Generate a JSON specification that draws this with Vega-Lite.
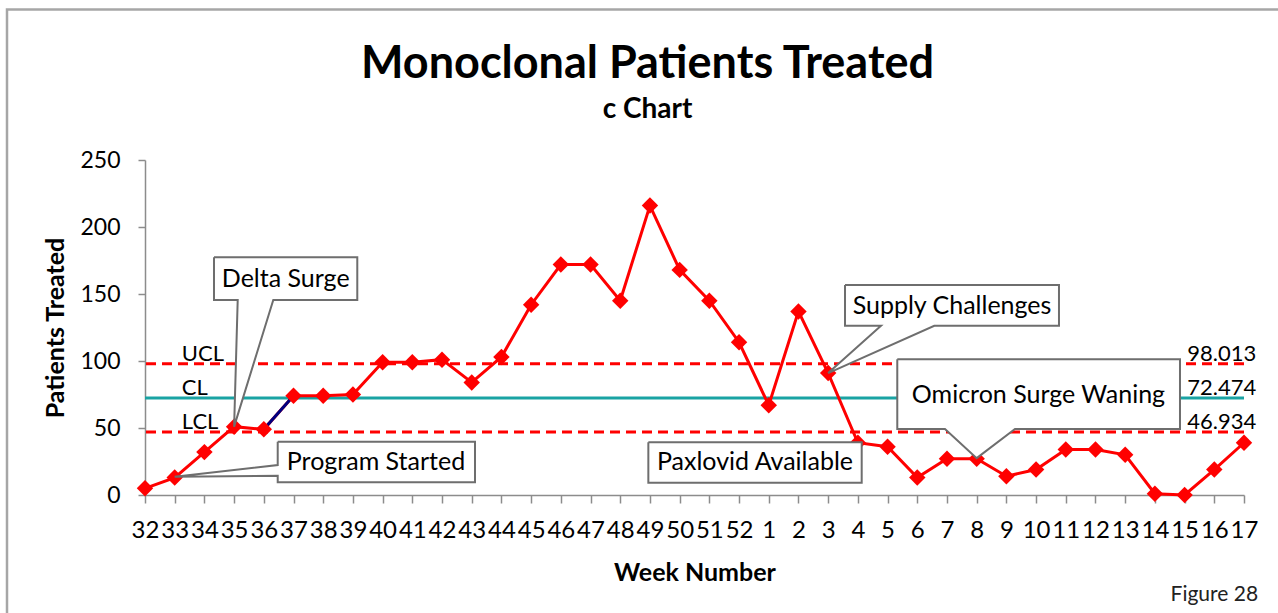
{
  "$schema": "https://vega.github.io/schema/vega-lite/v6.json",
  "width": 1099,
  "height": 335,
  "autosize": {"type": "none"},
  "padding": {"left": 145, "top": 160, "right": 34, "bottom": 118},
  "background": "white",
  "config": {
    "view": {"stroke": null},
    "font": "Lato"
  },
  "title": {
    "text": "Monoclonal Patients Treated",
    "subtitle": "c Chart",
    "font": "Lato",
    "fontSize": 45,
    "fontWeight": "bold",
    "color": "black",
    "subtitleFont": "Lato",
    "subtitleFontSize": 28,
    "subtitleFontWeight": "bold",
    "subtitleColor": "black",
    "subtitlePadding": 9,
    "anchor": "middle",
    "frame": "group",
    "offset": -116,
    "dx": -47
  },
  "datasets": {
    "weeks": [
      {"idx": 0, "week": "32", "patients": 5},
      {"idx": 1, "week": "33", "patients": 13},
      {"idx": 2, "week": "34", "patients": 32},
      {"idx": 3, "week": "35", "patients": 51},
      {"idx": 4, "week": "36", "patients": 49},
      {"idx": 5, "week": "37", "patients": 74},
      {"idx": 6, "week": "38", "patients": 74},
      {"idx": 7, "week": "39", "patients": 75},
      {"idx": 8, "week": "40", "patients": 99},
      {"idx": 9, "week": "41", "patients": 99},
      {"idx": 10, "week": "42", "patients": 101},
      {"idx": 11, "week": "43", "patients": 84},
      {"idx": 12, "week": "44", "patients": 103},
      {"idx": 13, "week": "45", "patients": 142},
      {"idx": 14, "week": "46", "patients": 172},
      {"idx": 15, "week": "47", "patients": 172},
      {"idx": 16, "week": "48", "patients": 145},
      {"idx": 17, "week": "49", "patients": 216},
      {"idx": 18, "week": "50", "patients": 168},
      {"idx": 19, "week": "51", "patients": 145},
      {"idx": 20, "week": "52", "patients": 114},
      {"idx": 21, "week": "1", "patients": 67},
      {"idx": 22, "week": "2", "patients": 137},
      {"idx": 23, "week": "3", "patients": 91},
      {"idx": 24, "week": "4", "patients": 39},
      {"idx": 25, "week": "5", "patients": 36},
      {"idx": 26, "week": "6", "patients": 13},
      {"idx": 27, "week": "7", "patients": 27},
      {"idx": 28, "week": "8", "patients": 27},
      {"idx": 29, "week": "9", "patients": 14},
      {"idx": 30, "week": "10", "patients": 19},
      {"idx": 31, "week": "11", "patients": 34},
      {"idx": 32, "week": "12", "patients": 34},
      {"idx": 33, "week": "13", "patients": 30},
      {"idx": 34, "week": "14", "patients": 1},
      {"idx": 35, "week": "15", "patients": 0},
      {"idx": 36, "week": "16", "patients": 19},
      {"idx": 37, "week": "17", "patients": 39}
    ],
    "limits": [
      {"name": "UCL", "value": 98.013, "label": "98.013"},
      {"name": "CL", "value": 72.474, "label": "72.474"},
      {"name": "LCL", "value": 46.934, "label": "46.934"}
    ],
    "callouts": [
      {"id": "D", "o": 0, "x": 2.323, "y": 177.4},
      {"id": "D", "o": 1, "x": 7.147, "y": 177.4},
      {"id": "D", "o": 2, "x": 7.147, "y": 145.5},
      {"id": "D", "o": 3, "x": 4.319, "y": 145.5},
      {"id": "D", "o": 4, "x": 3.0, "y": 51},
      {"id": "D", "o": 5, "x": 3.121, "y": 145.5},
      {"id": "D", "o": 6, "x": 2.323, "y": 145.5},
      {"id": "D", "o": 7, "x": 2.323, "y": 177.4},
      {"id": "P", "o": 0, "x": 4.468, "y": 39.8},
      {"id": "P", "o": 1, "x": 11.11, "y": 39.8},
      {"id": "P", "o": 2, "x": 11.11, "y": 9.5},
      {"id": "P", "o": 3, "x": 4.468, "y": 9.5},
      {"id": "P", "o": 4, "x": 4.468, "y": 14.4},
      {"id": "P", "o": 5, "x": 1.0, "y": 13.7},
      {"id": "P", "o": 6, "x": 4.468, "y": 22.4},
      {"id": "P", "o": 7, "x": 4.468, "y": 39.8},
      {"id": "S", "o": 0, "x": 23.567, "y": 156.7},
      {"id": "S", "o": 1, "x": 30.771, "y": 156.7},
      {"id": "S", "o": 2, "x": 30.771, "y": 126.3},
      {"id": "S", "o": 3, "x": 26.573, "y": 126.3},
      {"id": "S", "o": 4, "x": 23.0, "y": 91},
      {"id": "S", "o": 5, "x": 24.779, "y": 126.3},
      {"id": "S", "o": 6, "x": 23.567, "y": 126.3},
      {"id": "S", "o": 7, "x": 23.567, "y": 156.7},
      {"id": "O", "o": 0, "x": 25.327, "y": 101.3},
      {"id": "O", "o": 1, "x": 34.845, "y": 101.3},
      {"id": "O", "o": 2, "x": 34.845, "y": 49.3},
      {"id": "O", "o": 3, "x": 29.29, "y": 49.3},
      {"id": "O", "o": 4, "x": 28.0, "y": 27.5},
      {"id": "O", "o": 5, "x": 26.933, "y": 49.3},
      {"id": "O", "o": 6, "x": 25.327, "y": 49.3},
      {"id": "O", "o": 7, "x": 25.327, "y": 101.3},
      {"id": "X", "o": 0, "x": 16.946, "y": 39.3},
      {"id": "X", "o": 1, "x": 24.129, "y": 39.3},
      {"id": "X", "o": 2, "x": 24.129, "y": 9.2},
      {"id": "X", "o": 3, "x": 16.946, "y": 9.2},
      {"id": "X", "o": 4, "x": 16.946, "y": 39.3}
    ],
    "notes": [
      {"text": "Delta Surge", "x": 4.737, "y": 161.4},
      {"text": "Program Started", "x": 7.777, "y": 24.6},
      {"text": "Supply Challenges", "x": 27.17, "y": 141.4},
      {"text": "Omicron Surge Waning", "x": 30.08, "y": 74.6},
      {"text": "Paxlovid Available", "x": 20.537, "y": 24.3}
    ],
    "frame": [{"x": -4.646, "x2": 40, "y": 362.3, "y2": -150}],
    "footer": [{"text": "Figure 28"}]
  },
  "layer": [
    {
      "data": {"name": "frame"},
      "mark": {"type": "rect", "fill": "white", "fillOpacity": 0, "stroke": "#A6A6A6", "strokeWidth": 2.5},
      "encoding": {
        "x": {
          "field": "x", "type": "quantitative",
          "scale": {"domain": [0, 37], "nice": false, "zero": false},
          "axis": {
            "title": "Week Number",
            "values": [0,1,2,3,4,5,6,7,8,9,10,11,12,13,14,15,16,17,18,19,20,21,22,23,24,25,26,27,28,29,30,31,32,33,34,35,36,37],
            "tickCount": 60,
            "labelExpr": "['32','33','34','35','36','37','38','39','40','41','42','43','44','45','46','47','48','49','50','51','52','1','2','3','4','5','6','7','8','9','10','11','12','13','14','15','16','17'][datum.value]",
            "labelFont": "Lato", "labelFontSize": 24, "labelColor": "black",
            "labelOverlap": false, "labelFlush": false,
            "labelBaseline": "alphabetic", "labelPadding": 34,
            "tickSize": 8, "tickColor": "#8C8C8C", "tickWidth": 1.5,
            "domainColor": "#8C8C8C", "domainWidth": 1.5, "grid": false,
            "titleFont": "Lato", "titleFontSize": 25, "titleFontWeight": "bold", "titleColor": "black",
            "titleBaseline": "alphabetic", "titleY": 85
          }
        },
        "x2": {"field": "x2"},
        "y": {
          "field": "y", "type": "quantitative",
          "scale": {"domain": [0, 250], "nice": false},
          "axis": {
            "title": "Patients Treated",
            "values": [0, 50, 100, 150, 200, 250],
            "labelFont": "Lato", "labelFontSize": 23, "labelColor": "black",
            "labelPadding": 18, "labelBaseline": "middle",
            "tickSize": 7, "tickColor": "#8C8C8C", "tickWidth": 1.5,
            "domainColor": "#8C8C8C", "domainWidth": 1.5, "grid": false,
            "titleFont": "Lato", "titleFontSize": 25, "titleFontWeight": "bold", "titleColor": "black",
            "titleX": -90, "titleY": 167.5, "titleBaseline": "middle"
          }
        },
        "y2": {"field": "y2"}
      }
    },
    {
      "data": {"name": "limits"},
      "transform": [{"filter": "datum.name !== 'CL'"}],
      "mark": {"type": "rule", "color": "#FF0000", "strokeWidth": 3, "strokeDash": [10, 6]},
      "encoding": {
        "y": {"field": "value", "type": "quantitative", "scale": {"domain": [0, 250], "nice": false}}
      }
    },
    {
      "data": {"name": "limits"},
      "transform": [{"filter": "datum.name === 'CL'"}],
      "mark": {"type": "rule", "color": "#1AA3A3", "strokeWidth": 3},
      "encoding": {
        "y": {"field": "value", "type": "quantitative", "scale": {"domain": [0, 250], "nice": false}}
      }
    },
    {
      "data": {"name": "limits"},
      "mark": {"type": "text", "align": "left", "baseline": "alphabetic", "dy": -3, "fontSize": 22, "font": "Lato", "color": "black"},
      "encoding": {
        "x": {"datum": 1.24, "type": "quantitative", "scale": {"domain": [0, 37], "nice": false, "zero": false}},
        "y": {"field": "value", "type": "quantitative", "scale": {"domain": [0, 250], "nice": false}},
        "text": {"field": "name"}
      }
    },
    {
      "data": {"name": "limits"},
      "mark": {"type": "text", "align": "left", "baseline": "alphabetic", "dy": -3, "fontSize": 22, "font": "Lato", "color": "black"},
      "encoding": {
        "x": {"datum": 35.09, "type": "quantitative", "scale": {"domain": [0, 37], "nice": false, "zero": false}},
        "y": {"field": "value", "type": "quantitative", "scale": {"domain": [0, 250], "nice": false}},
        "text": {"field": "label"}
      }
    },
    {
      "data": {"name": "weeks"},
      "mark": {"type": "line", "color": "#FF0000", "strokeWidth": 3},
      "encoding": {
        "x": {"field": "idx", "type": "quantitative", "scale": {"domain": [0, 37], "nice": false, "zero": false}},
        "y": {"field": "patients", "type": "quantitative", "scale": {"domain": [0, 250], "nice": false}}
      }
    },
    {
      "data": {"name": "weeks"},
      "transform": [{"filter": "datum.idx >= 4 && datum.idx <= 5"}],
      "mark": {"type": "line", "color": "#000080", "strokeWidth": 3},
      "encoding": {
        "x": {"field": "idx", "type": "quantitative", "scale": {"domain": [0, 37], "nice": false, "zero": false}},
        "y": {"field": "patients", "type": "quantitative", "scale": {"domain": [0, 250], "nice": false}}
      }
    },
    {
      "data": {"name": "weeks"},
      "mark": {"type": "point", "shape": "diamond", "filled": true, "color": "#FF0000", "size": 270, "opacity": 1},
      "encoding": {
        "x": {"field": "idx", "type": "quantitative", "scale": {"domain": [0, 37], "nice": false, "zero": false}},
        "y": {"field": "patients", "type": "quantitative", "scale": {"domain": [0, 250], "nice": false}}
      }
    },
    {
      "data": {"name": "callouts"},
      "mark": {"type": "line", "fill": "white", "stroke": "#6E6E6E", "strokeWidth": 2, "strokeJoin": "miter", "interpolate": "linear"},
      "encoding": {
        "x": {"field": "x", "type": "quantitative", "scale": {"domain": [0, 37], "nice": false, "zero": false}},
        "y": {"field": "y", "type": "quantitative", "scale": {"domain": [0, 250], "nice": false}},
        "order": {"field": "o", "type": "quantitative"},
        "detail": {"field": "id", "type": "nominal"}
      }
    },
    {
      "data": {"name": "notes"},
      "mark": {"type": "text", "align": "center", "baseline": "middle", "fontSize": 25, "font": "Lato", "color": "black"},
      "encoding": {
        "x": {"field": "x", "type": "quantitative", "scale": {"domain": [0, 37], "nice": false, "zero": false}},
        "y": {"field": "y", "type": "quantitative", "scale": {"domain": [0, 250], "nice": false}},
        "text": {"field": "text"}
      }
    },
    {
      "data": {"name": "footer"},
      "mark": {"type": "text", "align": "right", "baseline": "alphabetic", "fontSize": 21, "font": "Lato", "color": "#222222"},
      "encoding": {
        "x": {"datum": 37.475, "type": "quantitative", "scale": {"domain": [0, 37], "nice": false, "zero": false}},
        "y": {"datum": -79.1, "type": "quantitative", "scale": {"domain": [0, 250], "nice": false}},
        "text": {"field": "text"}
      }
    }
  ]
}
